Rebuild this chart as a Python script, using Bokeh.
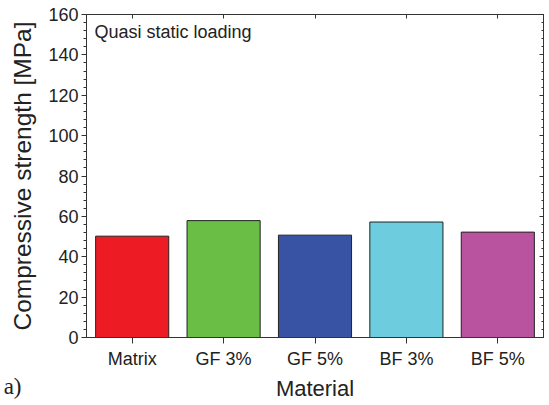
from bokeh.plotting import figure
from bokeh.layouts import column
from bokeh.models import (FactorRange, Range1d, CategoricalAxis, LinearAxis,
                          ColumnDataSource, Label, SingleIntervalTicker,
                          FixedTicker, CustomJSTickFormatter)
from bokeh.embed import file_html
from bokeh.resources import INLINE

materials = ["Matrix", "GF 3%", "GF 5%", "BF 3%", "BF 5%"]
strength = [50.2, 57.9, 50.7, 57.2, 52.2]
colors = ["#ED1C24", "#6ABD45", "#3953A4", "#6DCCDD", "#B9529F"]

FONT = "Liberation Sans"
AX = "#333333"
TXT = "#222222"

src = ColumnDataSource(dict(m=materials, v=strength, c=colors))

p = figure(width=549, height=375, x_range=FactorRange(*materials),
           y_range=Range1d(0, 160), output_backend="svg", toolbar_location=None,
           min_border_left=86, min_border_right=6, min_border_top=14,
           min_border_bottom=38)
p.vbar(x="m", top="v", width=0.8, fill_color="c", line_color=TXT,
       line_width=1, source=src)

p.xgrid.visible = False
p.ygrid.visible = False
p.outline_line_color = AX
p.outline_line_width = 1
p.x_range.range_padding = 0

yax = p.yaxis[0]
yax.ticker = SingleIntervalTicker(interval=20, num_minor_ticks=5)
yax.axis_label = "Compressive strength [MPa]"
yax.axis_label_text_font = FONT
yax.axis_label_text_font_style = "normal"
yax.axis_label_text_font_size = "24.5px"
yax.axis_label_standoff = 9
yax.major_label_text_font = FONT
yax.major_label_text_font_size = "18px"
yax.major_label_standoff = 3
yax.major_tick_out = 5
yax.major_tick_in = 0
yax.minor_tick_out = 3
yax.minor_tick_in = 0
yax.axis_line_color = AX
yax.major_tick_line_color = AX
yax.minor_tick_line_color = AX
yax.major_label_text_color = TXT
yax.axis_label_text_color = TXT

xax = p.xaxis[0]
xax.major_label_text_font = FONT
xax.major_label_text_font_size = "18px"
xax.major_label_standoff = 5
xax.major_tick_out = 6
xax.major_tick_in = 0
xax.axis_line_color = AX
xax.major_tick_line_color = AX
xax.major_label_text_color = TXT

top = CategoricalAxis(formatter=CustomJSTickFormatter(code="return ''"),
                      major_tick_in=4, major_tick_out=0, axis_line_color=AX,
                      major_tick_line_color=AX, major_label_standoff=0)
p.add_layout(top, "above")
right = LinearAxis(ticker=SingleIntervalTicker(interval=20, num_minor_ticks=5),
                   formatter=CustomJSTickFormatter(code="return ''"),
                   major_tick_in=4, major_tick_out=0, minor_tick_in=2,
                   minor_tick_out=0, axis_line_color=AX,
                   major_tick_line_color=AX, minor_tick_line_color=AX,
                   major_label_standoff=0)
p.add_layout(right, "right")

p.add_layout(Label(x=8, y=151.5, x_units="screen", y_units="data",
                   text="Quasi static loading", text_font=FONT,
                   text_font_size="18px", text_color=TXT,
                   text_baseline="middle"))

# bottom strip: x-axis title and panel letter
b = figure(width=549, height=30, x_range=Range1d(0, 1), y_range=Range1d(0, 30),
           output_backend="svg", toolbar_location=None, x_axis_type=None,
           y_axis_type=None, min_border=0, outline_line_color=None)
b.xgrid.visible = False
b.ygrid.visible = False
b.add_layout(Label(x=0.5, y=17, x_units="data", y_units="screen",
                   text="Material", text_font=FONT, text_font_size="22px",
                   text_color=TXT, text_align="center",
                   text_baseline="middle"))
letter = LinearAxis(ticker=FixedTicker(ticks=[6], minor_ticks=[]),
                    major_label_overrides={6: "a)"},
                    major_label_text_font="Liberation Serif",
                    major_label_text_font_size="23px",
                    major_label_text_color=TXT, major_label_standoff=65,
                    axis_line_color=None, major_tick_line_color=None,
                    minor_tick_line_color=None, major_tick_out=0,
                    major_tick_in=0)
b.add_layout(letter, "left")

layout = column(p, b, spacing=0)
open("out.html", "w").write(file_html(layout, INLINE))
